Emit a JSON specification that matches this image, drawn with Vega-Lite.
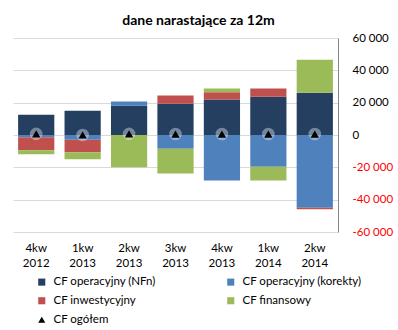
{
  "$schema": "https://vega.github.io/schema/vega-lite/v6.json",
  "width": 325,
  "height": 194,
  "autosize": {"type": "none"},
  "padding": {"left": 13, "top": 38, "right": 60, "bottom": 98},
  "background": "white",
  "config": {
    "font": "Lato",
    "view": {"stroke": null},
    "axis": {"labelFont": "Lato", "labelColor": "#000000", "labelOverlap": false, "labelFlush": false},
    "legend": {"labelFont": "Lato"}
  },
  "title": {
    "text": "dane narastające za 12m",
    "fontSize": 14,
    "fontWeight": "bold",
    "font": "Lato",
    "color": "#000000",
    "anchor": "middle",
    "dx": 23,
    "dy": 21,
    "baseline": "bottom",
    "offset": 11
  },
  "data": {
    "values": [
      {"period": "4kw 2012", "series": "CF operacyjny (NFn)", "value": 12600},
      {"period": "4kw 2012", "series": "CF operacyjny (korekty)", "value": -1400},
      {"period": "4kw 2012", "series": "CF inwestycyjny", "value": -8000},
      {"period": "4kw 2012", "series": "CF finansowy", "value": -2500},
      {"period": "4kw 2012", "series": "CF ogółem", "value": 700},
      {"period": "1kw 2013", "series": "CF operacyjny (NFn)", "value": 15000},
      {"period": "1kw 2013", "series": "CF operacyjny (korekty)", "value": -2900},
      {"period": "1kw 2013", "series": "CF inwestycyjny", "value": -7800},
      {"period": "1kw 2013", "series": "CF finansowy", "value": -4300},
      {"period": "1kw 2013", "series": "CF ogółem", "value": 0},
      {"period": "2kw 2013", "series": "CF operacyjny (NFn)", "value": 18200},
      {"period": "2kw 2013", "series": "CF operacyjny (korekty)", "value": 2500},
      {"period": "2kw 2013", "series": "CF inwestycyjny", "value": 0},
      {"period": "2kw 2013", "series": "CF finansowy", "value": -20000},
      {"period": "2kw 2013", "series": "CF ogółem", "value": 700},
      {"period": "3kw 2013", "series": "CF operacyjny (NFn)", "value": 19400},
      {"period": "3kw 2013", "series": "CF operacyjny (korekty)", "value": -8500},
      {"period": "3kw 2013", "series": "CF inwestycyjny", "value": 5000},
      {"period": "3kw 2013", "series": "CF finansowy", "value": -15300},
      {"period": "3kw 2013", "series": "CF ogółem", "value": 600},
      {"period": "4kw 2013", "series": "CF operacyjny (NFn)", "value": 21900},
      {"period": "4kw 2013", "series": "CF operacyjny (korekty)", "value": -28100},
      {"period": "4kw 2013", "series": "CF inwestycyjny", "value": 4500},
      {"period": "4kw 2013", "series": "CF finansowy", "value": 2300},
      {"period": "4kw 2013", "series": "CF ogółem", "value": 600},
      {"period": "1kw 2014", "series": "CF operacyjny (NFn)", "value": 23700},
      {"period": "1kw 2014", "series": "CF operacyjny (korekty)", "value": -19600},
      {"period": "1kw 2014", "series": "CF inwestycyjny", "value": 5000},
      {"period": "1kw 2014", "series": "CF finansowy", "value": -8500},
      {"period": "1kw 2014", "series": "CF ogółem", "value": 600},
      {"period": "2kw 2014", "series": "CF operacyjny (NFn)", "value": 26200},
      {"period": "2kw 2014", "series": "CF operacyjny (korekty)", "value": -45000},
      {"period": "2kw 2014", "series": "CF inwestycyjny", "value": -1000},
      {"period": "2kw 2014", "series": "CF finansowy", "value": 20400},
      {"period": "2kw 2014", "series": "CF ogółem", "value": 600}
    ]
  },
  "encoding": {
    "x": {
      "field": "period",
      "type": "ordinal",
      "sort": null,
      "scale": {"paddingInner": 0.22, "paddingOuter": 0.11},
      "axis": {
        "title": null,
        "orient": "bottom",
        "labelAngle": 0,
        "labelExpr": "split(datum.label, ' ')",
        "labelFontSize": 11.5,
        "labelLineHeight": 15,
        "labelPadding": 10,
        "ticks": false,
        "domain": false,
        "grid": false
      }
    },
    "y": {
      "field": "value",
      "type": "quantitative",
      "scale": {"domain": [-60000, 60000], "nice": false},
      "axis": {
        "title": null,
        "orient": "right",
        "values": [-60000, -40000, -20000, 0, 20000, 40000, 60000],
        "labelExpr": "(datum.value < 0 ? '-' : '') + replace(format(abs(datum.value), ',d'), ',', ' ')",
        "labelColor": {"condition": {"test": "datum.value < 0", "value": "#ff0000"}, "value": "#000000"},
        "labelFontSize": 11.5,
        "labelPadding": 14,
        "labelOverlap": false,
        "labelSeparation": 0,
        "ticks": false,
        "domain": true,
        "domainColor": "#868686",
        "grid": true,
        "gridColor": "#d9d9d9"
      }
    }
  },
  "layer": [
    {
      "transform": [
        {"filter": "datum.series !== 'CF ogółem'"},
        {"calculate": "indexof(['CF operacyjny (NFn)','CF operacyjny (korekty)','CF inwestycyjny','CF finansowy'], datum.series)", "as": "k"}
      ],
      "mark": {"type": "bar"},
      "encoding": {
        "y": {"field": "value", "type": "quantitative", "stack": "zero"},
        "order": {"field": "k", "type": "quantitative"},
        "color": {
          "field": "series",
          "type": "nominal",
          "scale": {
            "domain": ["CF operacyjny (NFn)", "CF operacyjny (korekty)", "CF inwestycyjny", "CF finansowy", "CF ogółem"],
            "range": ["#243f60", "#4f81bd", "#c0504d", "#9bbb59", "#000000"]
          },
          "legend": {
            "title": null,
            "orient": "none",
            "direction": "horizontal",
            "legendX": 23,
            "legendY": 238,
            "columns": 2,
            "columnPadding": 69,
            "rowPadding": 6,
            "labelFontSize": 11.5,
            "labelColor": "#000000",
            "symbolSize": 50,
            "labelOffset": 6
          }
        }
      }
    },
    {
      "mark": {"type": "rule", "color": "#868686", "strokeWidth": 1},
      "encoding": {"y": {"datum": 0, "type": "quantitative"}}
    },
    {
      "transform": [{"filter": "datum.series === 'CF ogółem'"}],
      "mark": {"type": "point", "shape": "circle", "filled": true, "color": "#eef3fa", "opacity": 0.4, "size": 160},
      "encoding": {}
    },
    {
      "transform": [{"filter": "datum.series === 'CF ogółem'"}],
      "mark": {"type": "point", "filled": true, "opacity": 1, "size": 70},
      "encoding": {
        "color": {"field": "series", "type": "nominal"},
        "shape": {
          "field": "series",
          "type": "nominal",
          "scale": {
            "domain": ["CF operacyjny (NFn)", "CF operacyjny (korekty)", "CF inwestycyjny", "CF finansowy", "CF ogółem"],
            "range": ["square", "square", "square", "square", "triangle-up"]
          }
        }
      }
    }
  ]
}
